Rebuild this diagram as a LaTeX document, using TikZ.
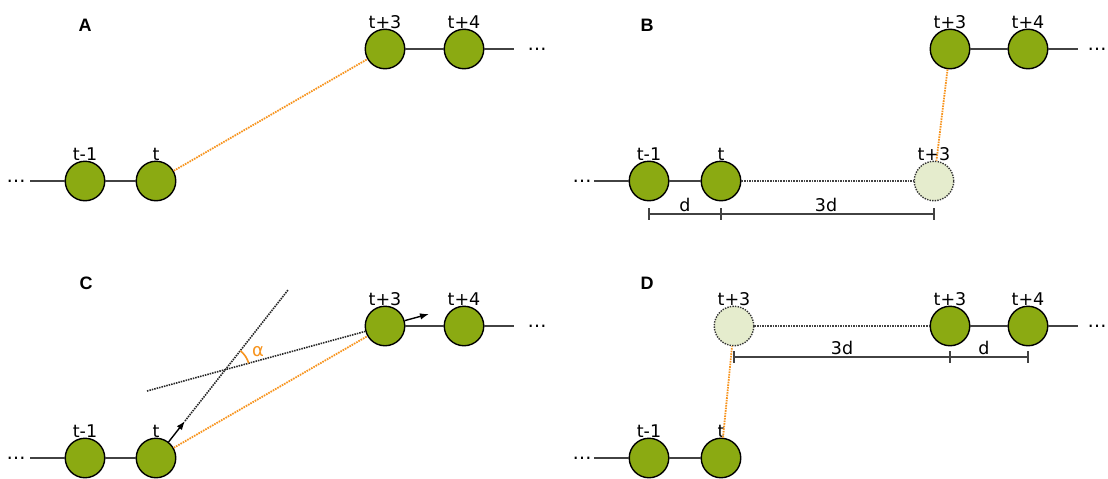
\documentclass[tikz,border=0pt]{standalone}
\usepackage{fontspec}
\setmainfont{DejaVu Sans}
\newfontfamily\panelfont{Liberation Sans}
\usetikzlibrary{arrows.meta}
\definecolor{beadgreen}{RGB}{139,170,18}
\definecolor{ghostfill}{RGB}{229,236,205}
\definecolor{trackorange}{RGB}{247,148,30}
\definecolor{linkgray}{RGB}{66,66,66}
\begin{document}
\begin{tikzpicture}[x=1pt,y=-1pt,
  bead/.style={circle, draw=black, line width=1.4pt, fill=beadgreen,
    minimum size=39.5pt, inner sep=0pt},
  ghost/.style={bead, fill=ghostfill, draw=black!80, dash pattern=on 1.4pt off 1.2pt},
  lab/.style={font=\fontsize{17.5}{17.5}\selectfont, anchor=base, inner sep=0pt},
  dots/.style={font=\fontsize{19}{19}\selectfont, inner sep=0pt},
  panel/.style={font=\panelfont\bfseries\fontsize{18}{18}\selectfont, inner sep=0pt},
  link/.style={draw=linkgray, line width=2pt},
  reach/.style={draw=trackorange, line width=1.8pt, dash pattern=on 1.6pt off 1pt},
  guide/.style={draw=linkgray, line width=1.8pt, dash pattern=on 1.6pt off 1pt},
  ray/.style={draw=black!85, line width=1.6pt, dash pattern=on 1.5pt off 1pt},
  vec/.style={draw=black, line width=1.4pt, -{Latex[length=9pt,width=6.5pt]}},
  ruler/.style={draw=linkgray, line width=1.8pt},
  tick/.style={draw=linkgray, line width=1.8pt},
]
\clip (0,0) rectangle (1108,479);

% ---------------- panel A: predicted jump ----------------
\node[panel] (pA) at (85,25) {A};
\node[bead] (a1) at (85,181) {};
\node[bead] (a2) at (156,181) {};
\node[bead] (a3) at (385,49) {};
\node[bead] (a4) at (464,49) {};
\node[lab] (la1) at ([yshift=0.5pt]a1.north) {t-1};
\node[lab] (la2) at ([yshift=0.5pt]a2.north) {t};
\node[lab] (la3) at ([yshift=0.5pt]a3.north) {t+3};
\node[lab] (la4) at ([yshift=0.5pt]a4.north) {t+4};
\node[dots] (da0) at (16,181) {…};
\node[dots] (da5) at (537,49) {…};
\coordinate (ea0) at (30,181);
\coordinate (ea5) at (514,49);
\draw[link] (ea0) -- (a1) (a1) -- (a2) (a3) -- (a4) (a4) -- (ea5);
\draw[reach] (a2) -- (a3);

% ---------------- panel B: extrapolated position ----------------
\node[panel] (pB) at (647,25) {B};
\node[bead] (b1) at (649,181) {};
\node[bead] (b2) at (721,181) {};
\node[ghost] (bg) at (934,181) {};
\node[bead] (b3) at (950,49) {};
\node[bead] (b4) at (1028,49) {};
\node[lab] (lb1) at ([yshift=0.5pt]b1.north) {t-1};
\node[lab] (lb2) at ([yshift=0.5pt]b2.north) {t};
\node[lab] (lbg) at ([yshift=0.5pt]bg.north) {t+3};
\node[lab] (lb3) at ([yshift=0.5pt]b3.north) {t+3};
\node[lab] (lb4) at ([yshift=0.5pt]b4.north) {t+4};
\node[dots] (db0) at (582,181) {…};
\node[dots] (db5) at (1097,49) {…};
\coordinate (eb0) at (594,181);
\coordinate (eb5) at (1078,49);
\draw[link] (eb0) -- (b1) (b1) -- (b2) (b3) -- (b4) (b4) -- (eb5);
\draw[guide] (b2) -- (bg);
\draw[reach] (b3) -- (bg);
\coordinate (rb0) at (649,214);
\coordinate (rb1) at (721,214);
\coordinate (rb2) at (934,214);
\draw[ruler] (rb0) -- (rb2);
\foreach \p in {rb0,rb1,rb2}
  \draw[tick] ([yshift=6pt]\p) -- ([yshift=-6pt]\p);
\node[lab] (mb1) at (685,211) {d};
\node[lab] (mb2) at (826,211) {3d};

% ---------------- panel C: direction angle ----------------
\node[panel] (pC) at (86,283) {C};
\node[bead] (c1) at (85,458) {};
\node[bead] (c2) at (156,458) {};
\node[bead] (c3) at (385,326) {};
\node[bead] (c4) at (464,326) {};
\node[lab] (lc1) at ([yshift=0.5pt]c1.north) {t-1};
\node[lab] (lc2) at ([yshift=0.5pt]c2.north) {t};
\node[lab] (lc3) at ([yshift=0.5pt]c3.north) {t+3};
\node[lab] (lc4) at ([yshift=0.5pt]c4.north) {t+4};
\node[dots] (dc0) at (16,458) {…};
\node[dots] (dc5) at (537,326) {…};
\coordinate (ec0) at (30,458);
\coordinate (ec5) at (514,326);
\draw[link] (ec0) -- (c1) (c1) -- (c2) (c3) -- (c4) (c4) -- (ec5);
\draw[reach] (c2) -- (c3);
% heading of t and its extension
\coordinate (vc2) at (185,421);
\coordinate (rc2) at (288,290);
\draw[vec] (c2) -- (vc2);
\draw[ray] (vc2) -- (rc2);
% heading of t+3 and its backward extension
\coordinate (gc3) at (147,391);
\coordinate (vc3) at (429,314);
\draw[ray] (gc3) -- (c3);
\draw[vec] (c3) -- (vc3);
% angle between the two headings
\coordinate (xc) at (intersection of c2--rc2 and gc3--c3);
\draw[draw=trackorange, line width=1.6pt]
  ([shift={(15.3:24pt)}]xc) arc[start angle=15.3, end angle=51.8, radius=24pt];
\node[font=\fontsize{18}{18}\selectfont, text=trackorange, inner sep=0pt] (alpha) at (258,352) {α};

% ---------------- panel D: backward extrapolation ----------------
\node[panel] (pD) at (647,283) {D};
\node[bead] (d1) at (649,458) {};
\node[bead] (d2) at (721,458) {};
\node[ghost] (dg) at (734,326) {};
\node[bead] (d3) at (950,326) {};
\node[bead] (d4) at (1028,326) {};
\node[lab] (ld1) at ([yshift=0.5pt]d1.north) {t-1};
\node[lab] (ld2) at ([yshift=0.5pt]d2.north) {t};
\node[lab] (ldg) at ([yshift=0.5pt]dg.north) {t+3};
\node[lab] (ld3) at ([yshift=0.5pt]d3.north) {t+3};
\node[lab] (ld4) at ([yshift=0.5pt]d4.north) {t+4};
\node[dots] (dd0) at (582,458) {…};
\node[dots] (dd5) at (1097,326) {…};
\coordinate (ed0) at (594,458);
\coordinate (ed5) at (1078,326);
\draw[link] (ed0) -- (d1) (d1) -- (d2) (d3) -- (d4) (d4) -- (ed5);
\draw[guide] (dg) -- (d3);
\draw[reach] (d2) -- (dg);
\coordinate (rd0) at (734,357);
\coordinate (rd1) at (950,357);
\coordinate (rd2) at (1028,357);
\draw[ruler] (rd0) -- (rd2);
\foreach \p in {rd0,rd1,rd2}
  \draw[tick] ([yshift=6pt]\p) -- ([yshift=-6pt]\p);
\node[lab] (md1) at (842,354) {3d};
\node[lab] (md2) at (984,354) {d};
\end{tikzpicture}
\end{document}
